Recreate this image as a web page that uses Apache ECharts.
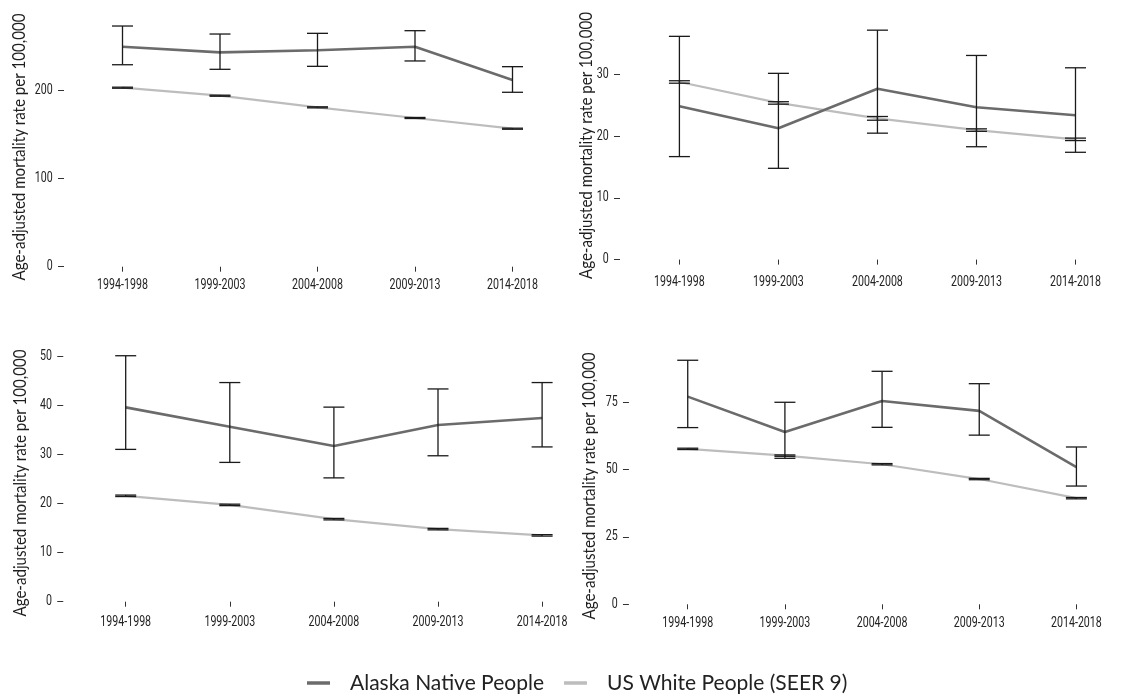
<!DOCTYPE html>
<html><head><meta charset="utf-8">
<script src="https://cdn.jsdelivr.net/npm/echarts@6/dist/echarts.min.js"></script>
<style>html,body{margin:0;padding:0;background:#fff}#c{width:1125px;height:698px}</style>
</head><body><div id="c"></div>
<script>
// ---------- data ----------
const categories = ['1994-1998', '1999-2003', '2004-2008', '2009-2013', '2014-2018'];
const yTitle = 'Age-adjusted mortality rate per 100,000';
const seriesNames = ['Alaska Native People', 'US White People (SEER 9)'];

// Panel 1 (top-left)
const p1Native     = [250.0, 243.6, 246.0, 250.0, 212.2];
const p1NativeLow  = [229.5, 224.3, 227.7, 233.8, 198.2];
const p1NativeHigh = [273.5, 264.4, 265.2, 268.2, 227.3];
const p1White      = [203.4, 194.3, 181.1, 169.0, 156.8];
const p1WhiteLow   = [202.8, 193.7, 180.5, 168.4, 156.2];
const p1WhiteHigh  = [204.0, 194.9, 181.7, 169.6, 157.4];
const p1Ticks = [0, 100, 200];

// Panel 2 (top-right)
const p2Native     = [24.85, 21.3, 27.7, 24.7, 23.4];
const p2NativeLow  = [16.7, 14.8, 20.5, 18.3, 17.4];
const p2NativeHigh = [36.2, 30.2, 37.2, 33.1, 31.1];
const p2White      = [28.8, 25.4, 22.9, 21.0, 19.5];
const p2WhiteLow   = [28.6, 25.2, 22.6, 20.8, 19.3];
const p2WhiteHigh  = [29.0, 25.6, 23.2, 21.2, 19.7];
const p2Ticks = [0, 10, 20, 30];

// Panel 3 (bottom-left)
const p3Native     = [39.55, 35.6, 31.67, 35.95, 37.4];
const p3NativeLow  = [31.0, 28.35, 25.2, 29.7, 31.5];
const p3NativeHigh = [50.06, 44.6, 39.6, 43.3, 44.6];
const p3White      = [21.55, 19.7, 16.8, 14.77, 13.5];
const p3WhiteLow   = [21.4, 19.55, 16.65, 14.62, 13.35];
const p3WhiteHigh  = [21.7, 19.85, 16.95, 14.92, 13.65];
const p3Ticks = [0, 10, 20, 30, 40, 50];

// Panel 4 (bottom-right)
const p4Native     = [77.1, 64.0, 75.5, 71.8, 50.9];
const p4NativeLow  = [65.6, 54.2, 65.7, 62.8, 43.9];
const p4NativeHigh = [90.6, 75.0, 86.5, 81.9, 58.4];
const p4White      = [57.7, 55.2, 52.0, 46.5, 39.4];
const p4WhiteLow   = [57.45, 54.95, 51.75, 46.25, 39.15];
const p4WhiteHigh  = [57.95, 55.45, 52.25, 46.75, 39.65];
const p4Ticks = [0, 25, 50, 75];

// ---------- layout / style ----------
const panels = [
  {nat: p1Native, natLo: p1NativeLow, natHi: p1NativeHigh, wh: p1White, whLo: p1WhiteLow, whHi: p1WhiteHigh, ticks: p1Ticks,
   left: 73.75, width: 487.5, top: 11.5, height: 255.2, max: 290, yOff: 9.75, xOff: 2, tx: 20, ty: 147},
  {nat: p2Native, natLo: p2NativeLow, natHi: p2NativeHigh, wh: p2White, whLo: p2WhiteLow, whHi: p2WhiteHigh, ticks: p2Ticks,
   left: 629.9, width: 497, top: 12.9, height: 246.7, max: 40, yOff: 9.9, xOff: 6, tx: 587, ty: 145.5},
  {nat: p3Native, natLo: p3NativeLow, natHi: p3NativeHigh, wh: p3White, whLo: p3WhiteLow, whHi: p3WhiteHigh, ticks: p3Ticks,
   left: 73.65, width: 520.5, top: 346.2, height: 255.5, max: 52, yOff: 10.4, xOff: 4.5, tx: 21, ty: 483},
  {nat: p4Native, natLo: p4NativeLow, natHi: p4NativeHigh, wh: p4White, whLo: p4WhiteLow, whHi: p4WhiteHigh, ticks: p4Ticks,
   left: 639.15, width: 509.5, top: 348.4, height: 255.9, max: 95, yOff: 10.2, xOff: 3, tx: 590, ty: 486}
];
const NATIVE_COLOR = '#6b6b6b';
const WHITE_COLOR = '#bdbdbd';
const TICK_FONT = 'Roboto, "Liberation Sans", sans-serif';
const TICK_SIZE = 14;
const TICK_SCALE = 0.76;     // condensed look
const TITLE_FONT = 'Lato, "Open Sans", sans-serif';
const TITLE_SIZE = 16.5;
const TITLE_SCALE = 0.915;

function errRender(params, api) {
  const i = api.value(0);
  const lo = api.coord([i, api.value(1)]);
  const hi = api.coord([i, api.value(2)]);
  const w = 10.5;
  const style = {stroke: '#1a1a1a', lineWidth: 1.3, fill: null};
  return {type: 'group', children: [
    {type: 'line', shape: {x1: lo[0], y1: lo[1], x2: hi[0], y2: hi[1]}, style: style},
    {type: 'line', shape: {x1: hi[0] - w, y1: hi[1], x2: hi[0] + w, y2: hi[1]}, style: style},
    {type: 'line', shape: {x1: lo[0] - w, y1: lo[1], x2: lo[0] + w, y2: lo[1]}, style: style}
  ]};
}

const grid = [], xAxis = [], yAxis = [], series = [];
panels.forEach(function (p, k) {
  grid.push({left: p.left, top: p.top, width: p.width, height: p.height, containLabel: false});
  xAxis.push({
    type: 'category', gridIndex: k, data: categories, boundaryGap: true, position: 'bottom', offset: p.xOff,
    axisLine: {show: false},
    axisTick: {show: true, alignWithLabel: true, length: 5, lineStyle: {color: '#333', width: 1}},
    axisLabel: {show: false},
    splitLine: {show: false}
  });
  yAxis.push({
    type: 'value', gridIndex: k, min: 0, max: p.max, offset: p.yOff,
    axisLine: {show: false},
    splitLine: {show: false},
    axisTick: {show: true, length: 6, customValues: p.ticks, lineStyle: {color: '#333', width: 1}},
    axisLabel: {show: false}
  });
  series.push({
    name: seriesNames[1], type: 'line', xAxisIndex: k, yAxisIndex: k, data: p.wh, symbol: 'none',
    color: WHITE_COLOR, lineStyle: {color: WHITE_COLOR, width: 2.2}, z: 2, silent: true
  });
  series.push({
    name: seriesNames[0], type: 'line', xAxisIndex: k, yAxisIndex: k, data: p.nat, symbol: 'none',
    color: NATIVE_COLOR, lineStyle: {color: NATIVE_COLOR, width: 2.6}, z: 3, silent: true
  });
  series.push({
    type: 'custom', xAxisIndex: k, yAxisIndex: k, renderItem: errRender, z: 4, silent: true,
    encode: {x: 0, y: [1, 2]},
    data: categories.map(function (c, i) { return [i, p.whLo[i], p.whHi[i]]; })
  });
  series.push({
    type: 'custom', xAxisIndex: k, yAxisIndex: k, renderItem: errRender, z: 5, silent: true,
    encode: {x: 0, y: [1, 2]},
    data: categories.map(function (c, i) { return [i, p.natLo[i], p.natHi[i]]; })
  });
});

const chart = echarts.init(document.getElementById('c'), null, {renderer: 'canvas'});
chart.setOption({
  animation: false,
  backgroundColor: '#fff',
  grid: grid, xAxis: xAxis, yAxis: yAxis, series: series,
  legend: {
    data: seriesNames, left: 307, top: 672.5, padding: 0, icon: 'rect', itemWidth: 23, itemHeight: 3.5, itemGap: 20,
    selectedMode: false,
    itemStyle: {borderWidth: 0},
    textStyle: {fontSize: 21, fontFamily: TITLE_FONT, color: '#222', padding: [0, 0, 0, 15]}
  }
});

// Tick labels and axis titles as text placed through the library's own coordinate system
const graphic = [];
panels.forEach(function (p, k) {
  categories.forEach(function (c, i) {
    const pt = chart.convertToPixel({gridIndex: k}, [i, 0]);
    graphic.push({
      type: 'text', x: pt[0], y: pt[1] + p.xOff + 5 + 11.5, scaleX: TICK_SCALE, silent: true,
      style: {text: c, fontSize: TICK_SIZE, fontFamily: TICK_FONT, fill: '#222',
              textAlign: 'center', textVerticalAlign: 'middle', verticalAlign: 'middle'}
    });
  });
  p.ticks.forEach(function (v) {
    const pt = chart.convertToPixel({gridIndex: k}, [0, v]);
    const axisX = p.left - p.yOff;
    graphic.push({
      type: 'text', x: axisX - 11.3, y: pt[1], scaleX: TICK_SCALE, silent: true,
      style: {text: String(v), fontSize: TICK_SIZE, fontFamily: TICK_FONT, fill: '#222',
              textAlign: 'right', textVerticalAlign: 'middle', verticalAlign: 'middle'}
    });
  });
  graphic.push({
    type: 'text', x: p.tx, y: p.ty, rotation: Math.PI / 2, scaleX: TITLE_SCALE, silent: true,
    style: {text: yTitle, fontSize: TITLE_SIZE, fontFamily: TITLE_FONT, fill: '#1e1e1e',
            textAlign: 'center', textVerticalAlign: 'middle', verticalAlign: 'middle'}
  });
});
chart.setOption({graphic: graphic});
</script></body></html>
